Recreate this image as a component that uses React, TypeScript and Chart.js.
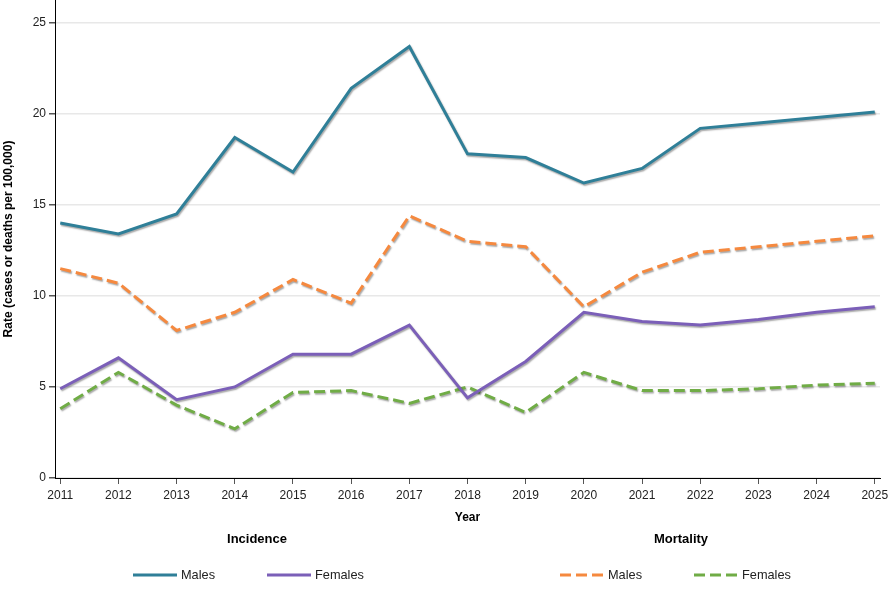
import React, { useEffect, useRef } from "react";
import { Chart, registerables } from "chart.js";

Chart.register(...registerables);

const years = [2011, 2012, 2013, 2014, 2015, 2016, 2017, 2018, 2019, 2020, 2021, 2022, 2023, 2024, 2025];

const incidenceMales = [14.0, 13.4, 14.5, 18.7, 16.8, 21.4, 23.7, 17.8, 17.6, 16.2, 17.0, 19.2, 19.5, 19.8, 20.1];
const incidenceFemales = [4.9, 6.6, 4.3, 5.0, 6.8, 6.8, 8.4, 4.4, 6.4, 9.1, 8.6, 8.4, 8.7, 9.1, 9.4];
const mortalityMales = [11.5, 10.7, 8.1, 9.1, 10.9, 9.6, 14.4, 13.0, 12.7, 9.4, 11.3, 12.4, 12.7, 13.0, 13.3];
const mortalityFemales = [3.8, 5.8, 4.0, 2.7, 4.7, 4.8, 4.1, 5.0, 3.6, 5.8, 4.8, 4.8, 4.9, 5.1, 5.2];

const yTicks = [0, 5, 10, 15, 20, 25];

const TEAL = "#2f7f98";
const PURPLE = "#7b5fb8";
const ORANGE = "#f5893f";
const GREEN = "#70ac46";
const DASH = [11, 5];
const FONT = "'Liberation Sans', Arial, sans-serif";

const toPoints = (vals: number[]) => vals.map((v, i) => ({ x: years[i], y: v }));

// Soft drop shadow under each series line
const lineShadow = {
  id: "lineShadow",
  beforeDatasetDraw(chart: any) {
    const ctx = chart.ctx;
    ctx.save();
    ctx.shadowColor = "rgba(0,0,0,0.35)";
    ctx.shadowOffsetX = 1;
    ctx.shadowOffsetY = 1.5;
    ctx.shadowBlur = 1.5;
  },
  afterDatasetDraw(chart: any) {
    chart.ctx.restore();
  },
};

// Grouped legend: Incidence (solid) and Mortality (dashed)
const groupLegend = {
  id: "groupLegend",
  afterDraw(chart: any) {
    const ctx = chart.ctx;
    ctx.save();
    ctx.textBaseline = "middle";
    ctx.fillStyle = "#000";
    ctx.font = `bold 13px ${FONT}`;
    ctx.textAlign = "center";
    ctx.fillText("Incidence", 257, 539);
    ctx.fillText("Mortality", 681, 539);

    const items = [
      { x: 133, color: TEAL, dash: [] as number[], label: "Males" },
      { x: 267, color: PURPLE, dash: [] as number[], label: "Females" },
      { x: 560, color: ORANGE, dash: DASH, label: "Males" },
      { x: 694, color: GREEN, dash: DASH, label: "Females" },
    ];
    const y = 575;
    items.forEach((it) => {
      ctx.beginPath();
      ctx.setLineDash(it.dash);
      ctx.strokeStyle = it.color;
      ctx.lineWidth = 3;
      ctx.moveTo(it.x, y);
      ctx.lineTo(it.x + 44, y);
      ctx.stroke();
      ctx.setLineDash([]);
      ctx.font = `12.75px ${FONT}`;
      ctx.textAlign = "left";
      ctx.fillStyle = "#222";
      ctx.fillText(it.label, it.x + 48, y);
    });
    ctx.restore();
  },
};

export default function App() {
  const ref = useRef<HTMLCanvasElement | null>(null);

  useEffect(() => {
    if (!ref.current) return;
    const chart = new Chart(ref.current, {
      type: "line",
      data: {
        datasets: [
          { label: "Incidence Males", data: toPoints(incidenceMales), borderColor: TEAL },
          { label: "Incidence Females", data: toPoints(incidenceFemales), borderColor: PURPLE },
          { label: "Mortality Males", data: toPoints(mortalityMales), borderColor: ORANGE, borderDash: DASH },
          { label: "Mortality Females", data: toPoints(mortalityFemales), borderColor: GREEN, borderDash: DASH },
        ].map((d) => ({
          ...d,
          borderWidth: 3,
          pointRadius: 0,
          pointHoverRadius: 0,
          tension: 0,
          fill: false,
          borderJoinStyle: "miter" as const,
        })),
      },
      options: {
        responsive: false,
        animation: false,
        layout: { padding: { top: 0, right: 10, left: 0, bottom: 0 } },
        plugins: {
          legend: { display: false },
          tooltip: { enabled: false },
        },
        scales: {
          x: {
            type: "linear",
            min: 2010.91,
            max: 2025.09,
            afterBuildTicks: (s: any) => {
              s.ticks = years.map((v) => ({ value: v }));
            },
            afterFit: (s: any) => {
              s.height = 122;
              s.paddingLeft = 0;
              s.paddingRight = 0;
            },
            ticks: {
              callback: (v: any) => String(v),
              color: "#222",
              font: { family: FONT, size: 12 },
              padding: 4,
              maxRotation: 0,
              autoSkip: false,
            },
            grid: {
              drawOnChartArea: false,
              drawTicks: true,
              tickLength: 6,
              tickColor: "#555",
            },
            border: { display: true, color: "#000", width: 1 },
            title: {
              display: true,
              text: "Year",
              color: "#000",
              font: { family: FONT, size: 12, weight: "bold" },
              padding: { top: 0, bottom: 75 },
            },
          },
          y: {
            type: "linear",
            min: 0,
            max: 26.25,
            afterBuildTicks: (s: any) => {
              s.ticks = yTicks.map((v) => ({ value: v }));
            },
            afterFit: (s: any) => {
              s.width = 55;
              s.paddingTop = 0;
              s.paddingBottom = 0;
            },
            ticks: {
              color: "#222",
              font: { family: FONT, size: 12 },
              padding: 3,
            },
            grid: {
              color: "#e8e8e8",
              lineWidth: 1.5,
              tickLength: 6,
              tickColor: "#555",
            },
            border: { display: true, color: "#000", width: 1 },
            title: {
              display: true,
              text: "Rate (cases or deaths per 100,000)",
              color: "#000",
              font: { family: FONT, size: 12, weight: "bold" },
              padding: { top: 1, bottom: 0 },
            },
          },
        },
      },
      plugins: [lineShadow, groupLegend],
    });
    return () => chart.destroy();
  }, []);

  return (
    <div style={{ position: "absolute", left: 0, top: 0, width: 890, height: 600, background: "#fff" }}>
      <canvas ref={ref} width={890} height={600} style={{ display: "block" }} />
    </div>
  );
}
